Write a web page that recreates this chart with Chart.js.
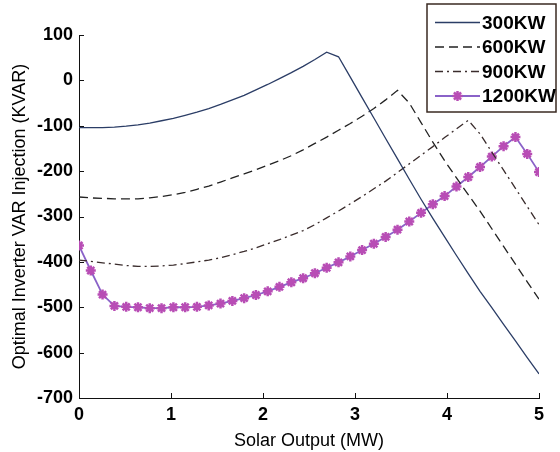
<!DOCTYPE html>
<html>
<head>
<meta charset="utf-8">
<script src="https://cdn.jsdelivr.net/npm/chart.js@4.4.1/dist/chart.umd.min.js"></script>
<style>
  body { margin: 0; background: #fff; }
  #wrap { width: 560px; height: 452px; }
</style>
</head>
<body>
<div id="wrap"><canvas id="varChart" width="560" height="452"></canvas></div>
<script>
// Datos (40 puntos entre 0 y 5 MW)
const solarOutput = [0, 0.128, 0.256, 0.385, 0.513, 0.641, 0.769, 0.897, 1.026, 1.154,
    1.282, 1.410, 1.538, 1.667, 1.795, 1.923, 2.051, 2.179, 2.308, 2.436,
    2.564, 2.692, 2.821, 2.949, 3.077, 3.205, 3.333, 3.462, 3.590, 3.718,
    3.846, 3.974, 4.103, 4.231, 4.359, 4.487, 4.615, 4.744, 4.872, 5.0];

const var300 = [-104, -104, -104, -103, -101, -98, -94, -89, -84, -77,
    -70, -62, -53, -43, -33, -21, -9, 4, 17, 31,
    46, 62, 52, 7, -38, -83, -128, -173, -218, -262,
    -304, -345, -386, -426, -465, -501, -538, -574, -611, -647];

const var600 = [-257, -259, -260, -261, -261, -261, -259, -256, -252, -247,
    -240, -233, -224, -215, -206, -197, -187, -177, -166, -153,
    -139, -125, -110, -95, -79, -62, -43, -22, -50, -93,
    -136, -177, -215, -252, -288, -327, -366, -405, -444, -482];

const var900 = [-396, -399, -402, -405, -408, -410, -410, -409, -407, -404,
    -400, -396, -391, -384, -377, -369, -360, -351, -341, -331,
    -318, -303, -288, -272, -256, -239, -222, -203, -184, -165,
    -146, -126, -107, -88, -118, -158, -198, -238, -278, -318];

const var1200 = [-364, -419, -472, -497, -499, -500, -502, -502, -500, -500,
    -499, -496, -492, -486, -480, -473, -465, -455, -445, -436,
    -425, -413, -401, -388, -374, -360, -345, -329, -311, -292,
    -273, -255, -234, -213, -191, -168, -145, -125, -162, -202];

const seriesLabels = ['300KW', '600KW', '900KW', '1200KW'];
const xTicks = [0, 1, 2, 3, 4, 5];
const yTicks = [-700, -600, -500, -400, -300, -200, -100, 0, 100];

const FONT = '"Liberation Sans", Arial, sans-serif';

function toPoints(ys) {
    return ys.map((y, i) => ({ x: solarOutput[i], y: y }));
}

// Marcas de eje hacia dentro (estilo MATLAB)
const innerTicks = {
    id: 'innerTicks',
    afterDraw(chart) {
        const ctx = chart.ctx;
        const xs = chart.scales.x, ys = chart.scales.y;
        ctx.save();
        ctx.strokeStyle = '#111';
        ctx.lineWidth = 1;
        ctx.beginPath();
        xs.ticks.forEach(t => {
            const px = Math.round(xs.getPixelForValue(t.value)) + 0.5;
            ctx.moveTo(px, xs.top);
            ctx.lineTo(px, xs.top - 5);
        });
        ys.ticks.forEach(t => {
            const py = Math.round(ys.getPixelForValue(t.value)) + 0.5;
            ctx.moveTo(ys.right, py);
            ctx.lineTo(ys.right + 5, py);
        });
        ctx.stroke();
        ctx.restore();
    }
};

// Leyenda con recuadro, dibujada a mano
const boxLegend = {
    id: 'boxLegend',
    afterDraw(chart) {
        const ctx = chart.ctx;
        const left = 427, top = 4, right = 556, bottom = 112;
        const rows = [22.5, 47, 71.5, 96];
        ctx.save();
        ctx.fillStyle = '#fff';
        ctx.fillRect(left, top, right - left, bottom - top);
        ctx.strokeStyle = '#3a2a22';
        ctx.lineWidth = 1.5;
        ctx.strokeRect(left, top, right - left, bottom - top);
        chart.data.datasets.forEach((ds, i) => {
            const y = rows[i];
            ctx.strokeStyle = ds.borderColor;
            ctx.lineWidth = ds.borderWidth;
            ctx.setLineDash(ds.borderDash || []);
            ctx.beginPath();
            ctx.moveTo(435, y);
            ctx.lineTo(480, y);
            ctx.stroke();
            ctx.setLineDash([]);
            if (ds.pointStyle === 'star') {
                ctx.strokeStyle = ds.pointBorderColor;
                ctx.lineWidth = ds.pointBorderWidth;
                ctx.beginPath();
                const r = 5, cx = 457.5;
                ctx.moveTo(cx - r, y); ctx.lineTo(cx + r, y);
                ctx.moveTo(cx, y - r); ctx.lineTo(cx, y + r);
                const d = r * 0.707;
                ctx.moveTo(cx - d, y - d); ctx.lineTo(cx + d, y + d);
                ctx.moveTo(cx - d, y + d); ctx.lineTo(cx + d, y - d);
                ctx.stroke();
            }
            ctx.fillStyle = '#000';
            ctx.font = 'bold 19px ' + FONT;
            ctx.textBaseline = 'middle';
            ctx.textAlign = 'left';
            ctx.fillText(ds.label, 482, y + 1);
        });
        ctx.restore();
    }
};

document.addEventListener('DOMContentLoaded', function() {
    const ctx = document.getElementById('varChart').getContext('2d');
    new Chart(ctx, {
        type: 'line',
        data: {
            datasets: [{
                label: seriesLabels[0],
                data: toPoints(var300),
                borderColor: '#2b3d66',
                borderWidth: 1.3,
                pointRadius: 0
            }, {
                label: seriesLabels[1],
                data: toPoints(var600),
                borderColor: '#222222',
                borderWidth: 1.3,
                borderDash: [9, 5],
                pointRadius: 0
            }, {
                label: seriesLabels[2],
                data: toPoints(var900),
                borderColor: '#3a2c2c',
                borderWidth: 1.3,
                borderDash: [8, 4, 2, 4],
                pointRadius: 0
            }, {
                label: seriesLabels[3],
                data: toPoints(var1200),
                borderColor: '#8a62c8',
                borderWidth: 1.8,
                pointStyle: 'star',
                pointRadius: 5,
                pointBorderWidth: 2.5,
                pointBorderColor: '#b84db5',
                pointBackgroundColor: '#b84db5'
            }]
        },
        options: {
            responsive: false,
            animation: false,
            devicePixelRatio: 1,
            layout: { padding: { top: 35, right: 21, left: 0, bottom: 0 } },
            plugins: {
                legend: { display: false },
                tooltip: { enabled: false }
            },
            scales: {
                x: {
                    type: 'linear',
                    min: 0,
                    max: 5,
                    afterBuildTicks: s => { s.ticks = xTicks.map(v => ({ value: v })); },
                    afterFit: s => { s.height = 54; },
                    grid: { display: false, drawTicks: false },
                    border: { display: true, color: '#111', width: 1 },
                    ticks: {
                        color: '#000',
                        padding: 6,
                        maxRotation: 0,
                        font: { family: FONT, size: 18, weight: 'bold' }
                    },
                    title: {
                        display: true,
                        text: 'Solar Output (MW)',
                        color: '#000',
                        padding: { top: 0, bottom: 2 },
                        font: { family: FONT, size: 18, lineHeight: 1 }
                    }
                },
                y: {
                    type: 'linear',
                    min: -700,
                    max: 100,
                    afterBuildTicks: s => { s.ticks = yTicks.map(v => ({ value: v })); },
                    afterFit: s => { s.width = 79; },
                    grid: { display: false, drawTicks: false },
                    border: { display: true, color: '#111', width: 1 },
                    ticks: {
                        color: '#000',
                        padding: 6,
                        font: { family: FONT, size: 18, weight: 'bold' }
                    },
                    title: {
                        display: true,
                        text: 'Optimal Inverter VAR Injection (KVAR)',
                        color: '#000',
                        padding: { top: 11, bottom: 0 },
                        font: { family: FONT, size: 18, lineHeight: 1 }
                    }
                }
            }
        },
        plugins: [innerTicks, boxLegend]
    });
});
</script>
</body>
</html>
